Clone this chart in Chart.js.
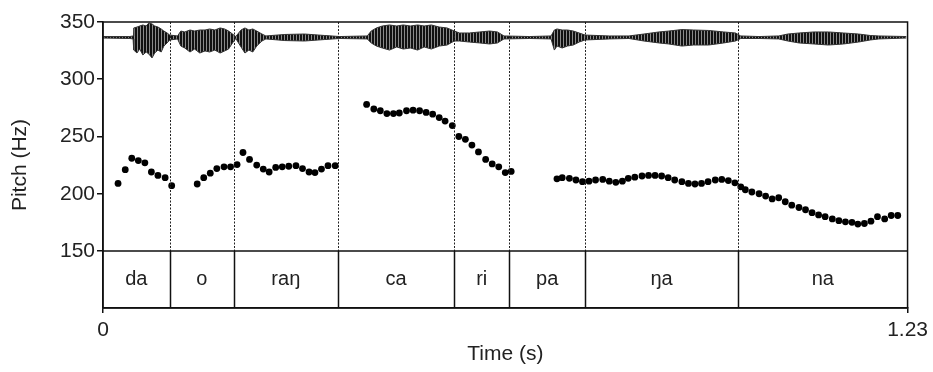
<!DOCTYPE html>
<html>
<head>
<meta charset="utf-8">
<script src="https://cdn.jsdelivr.net/npm/chart.js@4.4.0/dist/chart.umd.min.js"></script>
<style>
html, body { margin: 0; padding: 0; background: #fff; }
#wrap { width: 933px; height: 372px; }
</style>
</head>
<body>
<div id="wrap"><canvas id="c"></canvas></div>
<script>
// syllable tier: labels and boundary times (s)
var syllables = ['da', 'o', 'raŋ', 'ca', 'ri', 'pa', 'ŋa', 'na'];
var bounds = [0, 0.102, 0.200, 0.359, 0.537, 0.621, 0.737, 0.971, 1.23];

// pitch track, time (s) and pitch (Hz)
var pitchTime = [
  0.023, 0.034, 0.044, 0.054, 0.064, 0.074, 0.084, 0.095, 0.105,
  0.144, 0.154, 0.164, 0.174, 0.185, 0.195, 0.205,
  0.214, 0.224, 0.235, 0.245, 0.254, 0.264, 0.274, 0.284, 0.295, 0.305, 0.315, 0.324, 0.334, 0.344, 0.355,
  0.403, 0.414, 0.424, 0.434, 0.444, 0.453, 0.464, 0.474, 0.484, 0.494, 0.504, 0.514, 0.523, 0.534,
  0.544, 0.554, 0.564, 0.574, 0.585, 0.595, 0.605, 0.615, 0.624,
  0.694, 0.702, 0.713, 0.723, 0.733,
  0.743, 0.753, 0.764, 0.774, 0.784, 0.794, 0.803, 0.813, 0.824, 0.834, 0.844, 0.854, 0.864, 0.874,
  0.885, 0.895, 0.905, 0.915, 0.925, 0.936, 0.946, 0.956, 0.966,
  0.975, 0.982, 0.992, 1.003, 1.013, 1.023, 1.033, 1.043, 1.053, 1.064, 1.074, 1.084, 1.094, 1.104,
  1.115, 1.125, 1.135, 1.145, 1.154, 1.164, 1.174, 1.184, 1.195, 1.205, 1.215
];
var pitchHz = [
  209, 221, 231, 229, 227, 219, 216, 214, 207,
  208.5, 214, 218, 222, 223.5, 223.5, 225.5,
  236, 230, 225, 221.5, 219, 223, 223.5, 224, 224.5, 222, 219, 218.5, 221.5, 224.5, 224.5,
  278, 274, 272.5, 270, 270, 270.5, 272.5, 273, 272.5, 271, 269.5, 266.5, 263.5, 259.5,
  250, 247.5, 242.5, 236.5, 230, 226, 223.5, 218.5, 219.5,
  213, 214, 213.5, 212, 210.5,
  211, 212, 212.5, 211, 210, 211, 213.5, 214.5, 215.5, 216, 216, 215.5, 214, 212,
  210.5, 209, 208.5, 209, 210.5, 212, 212.5, 211.5, 209.5,
  206, 203.5, 201.5, 200, 198, 195.5, 196.5, 193, 190, 188, 186, 183.5, 181.5, 180,
  178, 176.5, 175.5, 175, 173.5, 174, 176, 180, 178, 181, 181
];

// waveform envelope, drawn on the pitch scale, time (s)
var waveTime = [
  0, 0.041, 0.046, 0.047, 0.052, 0.056, 0.061, 0.066, 0.070, 0.075, 0.079, 0.084, 0.089, 0.093, 0.098, 0.102,
  0.114, 0.119, 0.125, 0.133, 0.140, 0.148, 0.156, 0.163, 0.171, 0.179, 0.186, 0.192, 0.198, 0.203,
  0.211, 0.217, 0.223, 0.229, 0.235, 0.243, 0.249, 0.278, 0.308, 0.339, 0.362,
  0.404, 0.410, 0.418, 0.427, 0.438, 0.449, 0.459, 0.470, 0.481, 0.491, 0.502, 0.514, 0.526, 0.537,
  0.545, 0.560, 0.576, 0.591, 0.603, 0.613, 0.652,
  0.685, 0.690, 0.694, 0.702, 0.710, 0.719, 0.728, 0.737, 0.774,
  0.804, 0.827, 0.850, 0.865, 0.885, 0.903, 0.926, 0.949, 0.967, 0.975, 1.003,
  1.033, 1.047, 1.064, 1.087, 1.109, 1.132, 1.155, 1.173, 1.186, 1.228
];
var waveTop = [
  337.3, 337.3, 337.8, 344.8, 345.6, 346.5, 347.4, 346.5, 349.1, 348.3, 346.5, 345.6, 343.9, 342.1, 340.4, 338.6,
  337.8, 342.1, 341.3, 343.0, 342.1, 343.0, 343.0, 343.9, 343.0, 344.8, 343.9, 342.1, 339.5, 337.3,
  343.0, 344.8, 343.0, 343.9, 342.1, 339.5, 337.8, 339.1, 339.5, 338.2, 337.3,
  337.8, 342.1, 344.8, 346.5, 347.4, 346.5, 347.4, 346.5, 347.4, 346.5, 347.4, 345.6, 344.8, 342.1,
  340.4, 340.4, 341.3, 342.1, 341.3, 337.8, 337.3,
  337.8, 343.0, 343.9, 343.0, 343.0, 342.1, 340.4, 338.6, 337.8,
  337.8, 339.5, 341.3, 342.1, 343.4, 343.0, 342.6, 341.3, 340.4, 337.8, 337.3,
  337.8, 339.5, 340.4, 341.3, 341.3, 340.4, 339.5, 338.2, 337.8, 337.3
];
var waveBottom = [
  336.0, 335.6, 335.2, 325.5, 322.9, 326.4, 321.2, 323.8, 322.1, 318.6, 322.9, 325.5, 323.8, 329.0, 331.7, 334.3,
  335.2, 329.0, 327.3, 323.8, 326.4, 322.9, 324.7, 323.8, 325.5, 322.9, 324.7, 326.4, 331.7, 335.6,
  328.2, 322.9, 325.5, 323.8, 329.0, 333.4, 335.2, 333.8, 333.4, 334.7, 335.6,
  335.2, 331.7, 329.0, 327.3, 325.5, 328.2, 326.4, 327.3, 325.5, 328.2, 326.4, 329.0, 329.9, 333.4,
  333.4, 332.5, 331.7, 330.8, 331.7, 335.2, 335.6,
  335.2, 325.5, 329.0, 327.3, 329.0, 329.9, 332.5, 334.3, 335.2,
  335.6, 333.4, 331.7, 330.8, 329.0, 329.9, 329.9, 331.7, 333.4, 335.6, 335.6,
  335.2, 333.4, 331.7, 330.8, 329.9, 330.8, 332.5, 334.3, 335.2, 336.0
];

var yTicks = [150, 200, 250, 300, 350];
var xTicks = [0, 1.23];

var fontFam = '"Liberation Sans", Arial, sans-serif';
var textCol = '#222';

function pts(xs, ys) {
  return xs.map(function(t, i) { return {x: t, y: ys[i]}; });
}

var canvas = document.getElementById('c');
var ctx = canvas.getContext('2d');

// vertical hatch so the waveform looks like dense oscillation
var pc = document.createElement('canvas');
pc.width = 3; pc.height = 1;
var pctx = pc.getContext('2d');
pctx.fillStyle = '#111'; pctx.fillRect(0, 0, 2, 1);
pctx.fillStyle = '#8a8a8a'; pctx.fillRect(2, 0, 1, 1);
var hatch = ctx.createPattern(pc, 'repeat');

// frame, boundaries and syllable labels
var tierPlugin = {
  id: 'tier',
  afterDatasetsDraw: function(chart) {
    var c = chart.ctx, a = chart.chartArea;
    var x = chart.scales.x, y = chart.scales.y;
    var yb = y.getPixelForValue(150);
    var i, px;
    c.save();
    c.strokeStyle = '#222';
    c.lineWidth = 1;
    c.setLineDash([2, 1.5]);
    c.beginPath();
    for (i = 1; i < bounds.length - 1; i++) {
      px = Math.round(x.getPixelForValue(bounds[i])) + 0.5;
      c.moveTo(px, a.top);
      c.lineTo(px, yb);
    }
    c.stroke();
    c.setLineDash([]);
    c.strokeStyle = '#111';
    c.lineWidth = 1.5;
    c.beginPath();
    for (i = 1; i < bounds.length - 1; i++) {
      px = Math.round(x.getPixelForValue(bounds[i])) + 0.5;
      c.moveTo(px, yb);
      c.lineTo(px, a.bottom);
    }
    c.moveTo(a.left, yb);
    c.lineTo(a.right, yb);
    c.stroke();
    c.strokeRect(a.left, a.top, a.right - a.left, a.bottom - a.top);

    c.fillStyle = textCol;
    c.font = '20px ' + fontFam;
    c.textAlign = 'center';
    c.textBaseline = 'middle';
    for (i = 0; i < syllables.length; i++) {
      var cx = (x.getPixelForValue(bounds[i]) + x.getPixelForValue(bounds[i + 1])) / 2;
      c.fillText(syllables[i], cx, (yb + a.bottom) / 2);
    }
    c.restore();
  }
};

new Chart(canvas, {
  type: 'scatter',
  data: {
    datasets: [{
      data: pts(waveTime, waveTop),
      showLine: true,
      borderColor: '#333',
      borderWidth: 1,
      pointRadius: 0,
      fill: false
    }, {
      data: pts(waveTime, waveBottom),
      showLine: true,
      borderColor: '#333',
      borderWidth: 1,
      pointRadius: 0,
      backgroundColor: hatch,
      fill: '-1'
    }, {
      data: pts(pitchTime, pitchHz),
      pointRadius: 3.4,
      pointBackgroundColor: '#000',
      pointBorderWidth: 0
    }]
  },
  options: {
    responsive: true,
    maintainAspectRatio: false,
    animation: false,
    layout: { padding: { top: 22, right: 25, left: 0, bottom: 0 } },
    plugins: {
      legend: { display: false },
      tooltip: { enabled: false }
    },
    scales: {
      x: {
        type: 'linear',
        min: 0,
        max: 1.23,
        afterBuildTicks: function(s) { s.ticks = xTicks.map(function(v) { return {value: v}; }); },
        afterFit: function(s) { s.height = 64; },
        ticks: {
          autoSkip: false,
          maxRotation: 0,
          padding: 5,
          color: textCol,
          font: { family: fontFam, size: 21 },
          callback: function(v) { return v === 0 ? '0' : v.toFixed(2); }
        },
        grid: { drawOnChartArea: false, drawTicks: true, tickLength: 5, color: '#111', lineWidth: 1.5 },
        border: { display: true, color: '#111', width: 1.5 },
        title: {
          display: true,
          text: 'Time (s)',
          color: textCol,
          font: { family: fontFam, size: 21 },
          padding: { top: 0, bottom: 5 }
        }
      },
      y: {
        type: 'linear',
        min: 100.2,
        max: 350,
        afterBuildTicks: function(s) { s.ticks = yTicks.map(function(v) { return {value: v}; }); },
        afterFit: function(s) { s.width = 103; },
        ticks: {
          autoSkip: false,
          padding: 2,
          color: textCol,
          font: { family: fontFam, size: 21 }
        },
        grid: { drawOnChartArea: false, drawTicks: true, tickLength: 6, color: '#111', lineWidth: 1.5 },
        border: { display: true, color: '#111', width: 1.5 },
        title: {
          display: true,
          text: 'Pitch (Hz)',
          color: textCol,
          font: { family: fontFam, size: 21 },
          padding: { top: 8, bottom: 0 }
        }
      }
    }
  },
  plugins: [tierPlugin]
});
</script>
</body>
</html>
